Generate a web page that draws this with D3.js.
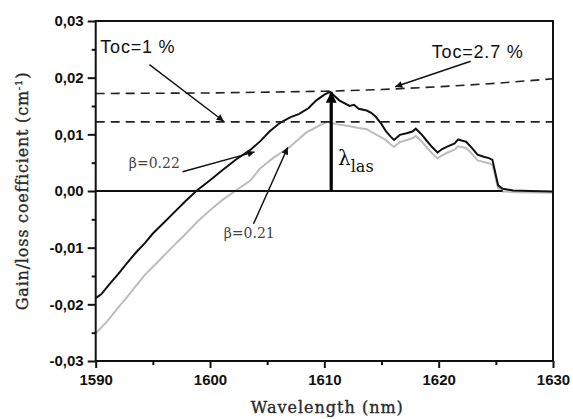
<!DOCTYPE html>
<html><head><meta charset="utf-8">
<script src="https://cdn.jsdelivr.net/npm/d3@7"></script>
<style>body{margin:0;background:#fff}svg{display:block}</style>
</head><body>
<script>
// ---- data ----
const xTicks = [1590, 1600, 1610, 1620, 1630];
const yTicks = [-0.03, -0.02, -0.01, 0.00, 0.01, 0.02, 0.03];
const beta022 = [
[1590,-0.0189],[1590.5,-0.0182],[1591.3,-0.0162],[1592,-0.0146],[1592.7,-0.0128],[1593.5,-0.0109],
[1594.3,-0.0092],[1595,-0.0075],[1596,-0.0055],[1596.8,-0.0039],[1597.8,-0.0019],[1598.8,0.0],
[1600,0.0019],[1601.1,0.0037],[1602.3,0.0056],[1603.5,0.0072],[1604.4,0.0088],[1605.2,0.0105],
[1606.1,0.0120],[1607,0.0130],[1607.8,0.0136],[1608.6,0.0146],[1609.3,0.0160],[1610,0.0170],
[1610.5,0.0175],[1611.3,0.0160],[1612.2,0.0150],[1612.6,0.0152],[1613,0.0145],[1613.7,0.0142],[1614.1,0.0138],[1614.5,0.0131],
[1615,0.0118],[1615.4,0.0105],[1615.8,0.0096],[1616.1,0.0090],[1616.6,0.0099],[1617.2,0.0102],
[1617.7,0.0105],[1618,0.0110],[1618.5,0.0100],[1618.9,0.0090],[1619.4,0.0078],[1619.9,0.0068],
[1620.3,0.0074],[1620.7,0.0078],[1621.4,0.0084],[1621.7,0.0091],[1622,0.0089],[1622.4,0.0087],
[1622.9,0.0076],[1623.4,0.0064],[1624,0.0060],[1624.4,0.0058],[1624.7,0.0055],[1625.2,0.0010],
[1625.6,0.0004],[1626.5,0.0001],[1628,0.0],[1630,-0.0001]];
const beta021 = [
[1590,-0.0251],[1591,-0.0230],[1592,-0.0205],[1592.7,-0.0188],[1593.5,-0.0168],[1594.3,-0.0148],
[1595.3,-0.0128],[1596.5,-0.0103],[1597.9,-0.0075],[1599,-0.0052],[1600,-0.0034],[1601,-0.0017],
[1602.2,0.0],[1603.5,0.0018],[1604.4,0.0040],[1605.5,0.0058],[1607,0.0078],[1608.4,0.0103],
[1609.6,0.0116],[1610.3,0.0122],[1611,0.0118],[1612,0.0115],[1613,0.0111],[1613.7,0.0109],
[1614.5,0.0100],[1615.4,0.0090],[1615.8,0.0082],[1616.1,0.0078],[1616.6,0.0086],[1617.2,0.0090],
[1617.7,0.0093],[1618,0.0097],[1618.5,0.0088],[1618.9,0.0078],[1619.4,0.0067],[1619.9,0.0058],
[1620.3,0.0063],[1620.7,0.0067],[1621.4,0.0073],[1621.7,0.0079],[1622.4,0.0076],[1622.9,0.0066],
[1623.4,0.0054],[1624.4,0.0049],[1624.7,0.0046],[1625.2,0.0005],[1625.6,-0.0001],[1627,-0.0002],
[1630,-0.0003]];
const toc27 = [[1590,0.0172],[1600,0.0173],[1610,0.0176],[1615,0.0179],[1620,0.0184],[1625,0.0190],[1630,0.0198]];
const toc1 = [[1590,0.0122],[1630,0.0122]];
const zeroLine = [[1590,0],[1625.6,0]];
const lasArrow = [[1610.6,0],[1610.6,0.0175]];
// annotation arrows: [from, to] in data units
const annArrows = [
  [[1594.7,0.0223],[1601.2,0.0123]],
  [[1622.8,0.0229],[1616.2,0.0184]],
  [[1597.6,0.0034],[1603.9,0.0069]],
  [[1603.8,-0.0058],[1606.8,0.0077]]
];
const labels = [
  {t:"Toc=1 %", x:1590.4, y:0.0243, cls:"sans"},
  {t:"Toc=2.7 %", x:1619.4, y:0.0235, cls:"sans"},
  {t:"β=0.22", x:1592.9, y:0.0040, cls:"serifg"},
  {t:"β=0.21", x:1601.2, y:-0.0083, cls:"serifg"}
];

// ---- chart ----
const W = 573, H = 419;
const svg = d3.select("body").append("svg").attr("width", W).attr("height", H);
const x = d3.scaleLinear().domain([1590, 1630]).range([95.7, 553]);
const y = d3.scaleLinear().domain([-0.03, 0.03]).range([361, 21]);
const line = d3.line().x(d => x(d[0])).y(d => y(d[1]));
const fmt = v => d3.format(".2f")(v).replace(".", ",").replace("−", "-");

svg.append("defs").append("marker").attr("id","ah").attr("viewBox","0 0 10 10")
  .attr("refX",10).attr("refY",5).attr("markerWidth",9).attr("markerHeight",7)
  .attr("markerUnits","userSpaceOnUse").attr("orient","auto")
  .append("path").attr("d","M0,0L10,5L0,10z").attr("fill","#111");
svg.select("defs").append("marker").attr("id","ahBig").attr("viewBox","0 0 10 10")
  .attr("refX",10).attr("refY",5).attr("markerWidth",20).attr("markerHeight",11)
  .attr("markerUnits","userSpaceOnUse").attr("orient","auto")
  .append("path").attr("d","M0,0L10,5L0,10z").attr("fill","#000");

// curves
svg.append("path").datum(beta021).attr("d", line).attr("fill","none").attr("stroke","#bdbdbd").attr("stroke-width",2);
svg.append("path").datum(beta022).attr("d", line).attr("fill","none").attr("stroke","#111").attr("stroke-width",2);
// dashed lines
[toc27, toc1].forEach(d => svg.append("path").datum(d).attr("d", line).attr("fill","none")
  .attr("stroke","#222").attr("stroke-width",1.6).attr("stroke-dasharray","9,6"));
// zero line
svg.append("path").datum(zeroLine).attr("d", line).attr("stroke","#111").attr("stroke-width",2.2);
// lambda arrow
svg.append("path").datum(lasArrow).attr("d", line).attr("stroke","#000").attr("stroke-width",3.2)
  .attr("marker-end","url(#ahBig)");
// annotation arrows
annArrows.forEach(a => svg.append("path").datum(a).attr("d", line).attr("stroke","#111")
  .attr("stroke-width",1.4).attr("marker-end","url(#ah)"));

// frame
svg.append("rect").attr("x",x(1590)).attr("y",y(0.03)).attr("width",x(1630)-x(1590))
  .attr("height",y(-0.03)-y(0.03)).attr("fill","none").attr("stroke","#111").attr("stroke-width",2);

// axes
const xAxis = d3.axisBottom(x).tickValues(xTicks).tickSize(7).tickPadding(6).tickFormat(d3.format("d"));
const gx = svg.append("g").attr("transform",`translate(0,${y(-0.03)})`).call(xAxis);
const gxm = svg.append("g").attr("transform",`translate(0,${y(-0.03)})`)
  .call(d3.axisBottom(x).tickValues([1595,1605,1615,1625]).tickSize(4).tickFormat(""));
const yAxis = d3.axisLeft(y).tickValues(yTicks).tickSize(8).tickPadding(4).tickFormat(fmt);
const gy = svg.append("g").attr("transform",`translate(${x(1590)},0)`).call(yAxis);
const gym = svg.append("g").attr("transform",`translate(${x(1590)},0)`)
  .call(d3.axisLeft(y).tickValues([-0.025,-0.015,-0.005,0.005,0.015,0.025]).tickSize(4).tickFormat(""));
[gx,gxm,gy,gym].forEach(g => { g.select(".domain").remove(); g.selectAll("line").attr("stroke","#111").attr("stroke-width",2); });
[gx,gy].forEach(g => g.selectAll("text").attr("font-family","Liberation Sans, Arial, sans-serif")
  .attr("font-weight","bold").attr("font-size",15).attr("fill","#111"));

// axis titles
svg.append("text").attr("x",(x(1590)+x(1630))/2+3).attr("y",413).attr("text-anchor","middle")
  .attr("font-family","DejaVu Serif, serif").attr("font-size",16).attr("letter-spacing",1)
  .attr("fill","#2a2a2a").attr("stroke","#2a2a2a").attr("stroke-width",0.35)
  .text("Wavelength (nm)");
const yt = svg.append("text").attr("transform",`translate(28,${(y(0.03)+y(-0.03))/2}) rotate(-90)`)
  .attr("text-anchor","middle").attr("font-family","DejaVu Serif, serif").attr("letter-spacing",0.8)
  .attr("font-size",16).attr("fill","#2a2a2a").attr("stroke","#2a2a2a").attr("stroke-width",0.35);
yt.append("tspan").text("Gain/loss coefficient (cm");
yt.append("tspan").attr("dy",-6).attr("font-size",10).text("-1");
yt.append("tspan").attr("dy",6).text(")");

// labels
labels.forEach(l => {
  const t = svg.append("text").attr("x",x(l.x)).attr("y",y(l.y)).text(l.t);
  if (l.cls === "sans") t.attr("font-family","Liberation Sans, Arial, sans-serif").attr("font-size",18)
    .attr("letter-spacing",0.8).attr("fill","#111");
  else t.attr("font-family","DejaVu Serif, serif").attr("font-size",14).attr("fill","#444");
});
const lt = svg.append("text").attr("x",x(1611.2)).attr("y",y(0.0046)).attr("font-family","DejaVu Serif, serif").attr("fill","#111");
lt.append("tspan").attr("font-size",20).text("λ");
lt.append("tspan").attr("font-size",16).attr("dy",7).text("las");
</script>
</body></html>
